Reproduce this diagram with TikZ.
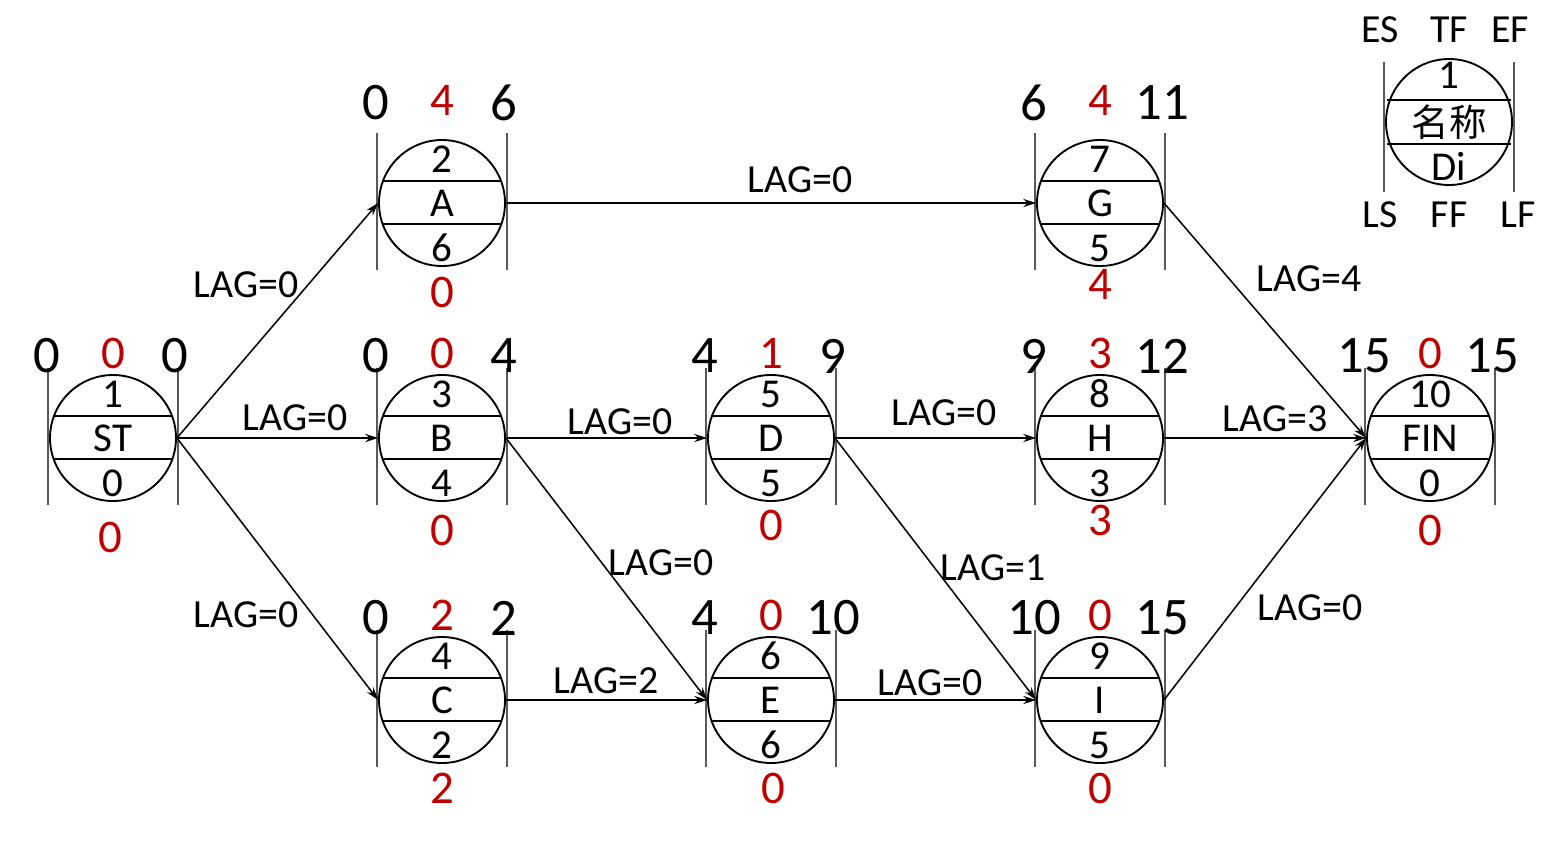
\documentclass[tikz,border=0pt]{standalone}
\usepackage{fontspec}
\setmainfont{Carlito}
\newfontfamily\cjk{Noto Sans CJK SC}
\usetikzlibrary{arrows.meta}
\definecolor{dred}{RGB}{192,0,0}
\tikzset{
 act/.style={circle,draw,line width=1.6pt,minimum size={126*0.03cm},inner sep=0pt},
 sideline/.style={gray!70!black,line width=1.2pt},
 inner/.style={font=\fontsize{35}{37}\selectfont},
 big/.style={font=\fontsize{45}{47}\selectfont},
 red/.style={font=\fontsize{40}{42}\selectfont,text=dred},
 lag/.style={font=\fontsize{34}{36}\selectfont},
 conn/.style={line width=1.3pt,-{Stealth[length=11pt,width=7pt]}},
}
\newcommand\toff{-100}
\newcommand\actnode[9]{%
 \node[act] (#1) at (#2,#3) {};
 \draw[line width=1.5pt] (#2-60,#3-22) -- (#2+60,#3-22) (#2-60,#3+21) -- (#2+60,#3+21);
 \draw[sideline] (#2-65,#3-70) -- (#2-65,#3+67) (#2+65,#3-70) -- (#2+65,#3+67);
 \node[inner] at (#2,#3-44) {#4};
 \node[inner] at (#2,#3) {#5};
 \node[inner] at (#2,#3+45) {#6};
 \node[big] at (#2-66,#3+\toff) {#7};
 \node[red] at (#2,#3+\toff-3) {#8};
 \node[big] at (#2+62,#3+\toff) {#9};
}
\begin{document}
\begin{tikzpicture}[x=0.03cm,y=-0.03cm]
\useasboundingbox (0,0) rectangle (1568,842);
\actnode{A}{442}{203}{2}{A}{6}{0}{4}{6}
\node[red] at (442,292) {0};
\actnode{G}{1100}{203}{7}{G}{5}{6}{4}{11}
\node[red] at (1100,284) {4};
\renewcommand\toff{-82}
\actnode{ST}{113}{438}{1}{ST}{0}{0}{0}{0}
\node[red] at (110,537) {0};
\actnode{B}{442}{438}{3}{B}{4}{0}{0}{4}
\node[red] at (442,530) {0};
\actnode{D}{771}{438}{5}{D}{5}{4}{1}{9}
\node[red] at (771,525) {0};
\actnode{H}{1100}{438}{8}{H}{3}{9}{3}{12}
\node[red] at (1100,520) {3};
\actnode{FIN}{1430}{438}{10}{FIN}{0}{15}{0}{15}
\node[red] at (1430,530) {0};
\actnode{C}{442}{700}{4}{C}{2}{0}{2}{2}
\node[red] at (442,788) {2};
\actnode{E}{771}{700}{6}{E}{6}{4}{0}{10}
\node[red] at (773,788) {0};
\actnode{I}{1100}{700}{9}{I}{5}{10}{0}{15}
\node[red] at (1100,788) {0};
% legend
\node[act] (L) at (1449,122) {};
\draw[line width=1.5pt] (1387,100) -- (1511,100) (1387,144) -- (1511,144);
\draw[sideline] (1384,62) -- (1384,192) (1514,62) -- (1514,192);
\node[inner] at (1449,75) {1};
\node[inner,font=\cjk\fontsize{32}{34}\selectfont] at (1449,122) {名称};
\node[inner] at (1449,166) {Di};
\node[lag] at (1380,30) {ES};
\node[lag] at (1449,30) {TF};
\node[lag] at (1510,30) {EF};
\node[lag] at (1380,215) {LS};
\node[lag] at (1449,215) {FF};
\node[lag] at (1518,215) {LF};
% connectors
\draw[conn] (ST.east) -- (A.west);
\draw[conn] (ST.east) -- (B.west);
\draw[conn] (ST.east) -- (C.west);
\draw[conn] (A.east) -- (G.west);
\draw[conn] (B.east) -- (D.west);
\draw[conn] (B.east) -- (E.west);
\draw[conn] (C.east) -- (E.west);
\draw[conn] (D.east) -- (H.west);
\draw[conn] (D.east) -- (I.west);
\draw[conn] (E.east) -- (I.west);
\draw[conn] (G.east) -- (FIN.west);
\draw[conn] (H.east) -- (FIN.west);
\draw[conn] (I.east) -- (FIN.west);
\node[lag] at (246,285) {LAG=0};
\node[lag] at (295,418) {LAG=0};
\node[lag] at (246,615) {LAG=0};
\node[lag] at (800,180) {LAG=0};
\node[lag] at (620,422) {LAG=0};
\node[lag] at (661,563) {LAG=0};
\node[lag] at (606,681) {LAG=2};
\node[lag] at (944,413) {LAG=0};
\node[lag] at (993,568) {LAG=1};
\node[lag] at (930,683) {LAG=0};
\node[lag] at (1309,279) {LAG=4};
\node[lag] at (1275,419) {LAG=3};
\node[lag] at (1310,608) {LAG=0};
\end{tikzpicture}
\end{document}
